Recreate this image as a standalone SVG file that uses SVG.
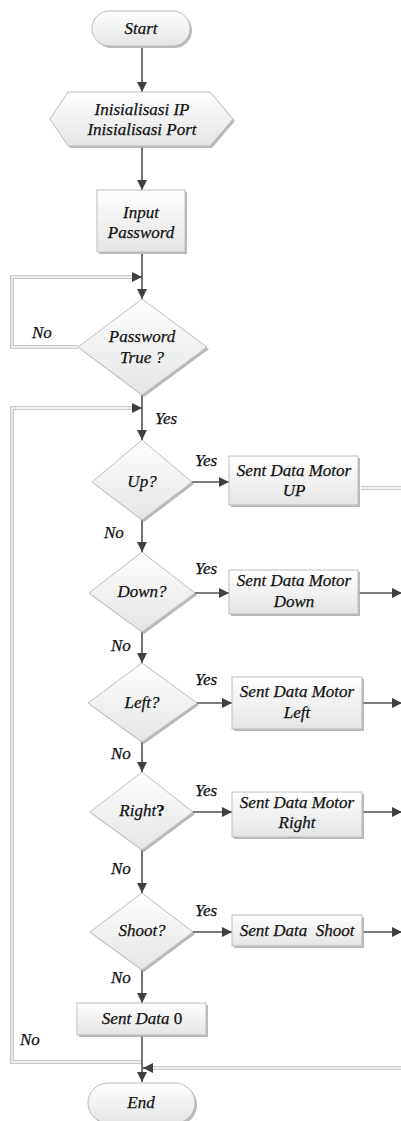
<svg xmlns="http://www.w3.org/2000/svg" width="401" height="1121" viewBox="0 0 401 1121">
<style>
.sh{fill:#a8a8a8;opacity:0.8}
.nd{fill:url(#g);stroke:#bdbdbd;stroke-width:1}
.t{font-family:'Liberation Serif',serif;font-style:italic;font-size:17px;fill:#111;stroke:#111;stroke-width:0.25;text-anchor:middle}
.l{font-family:'Liberation Serif',serif;font-style:italic;font-size:17px;fill:#111;stroke:#111;stroke-width:0.25}
.c{fill:none;stroke:#505050;stroke-width:1.6}
.d1{fill:none;stroke:#b8b8b8;stroke-width:3.5}
.d2{fill:none;stroke:#ffffff;stroke-width:1.3}
</style>
<defs>
<linearGradient id="g" x1="0" y1="0" x2="0" y2="1">
<stop offset="0" stop-color="#ffffff"/>
<stop offset="1" stop-color="#e4e4e4"/>
</linearGradient>
<marker id="a" markerUnits="userSpaceOnUse" markerWidth="12" markerHeight="12" refX="10" refY="5" orient="auto">
<path d="M0,0 L10,5 L0,10 Z" fill="#404040"/>
</marker>
</defs>

<g id="connectors">
<path class="c" d="M142 48 V92" marker-end="url(#a)"/>
<path class="c" d="M142 146 V190" marker-end="url(#a)"/>
<path class="c" d="M142 254 V299" marker-end="url(#a)"/>
<path class="d1" d="M78 347 H12 V277 H132"/>
<path class="d2" d="M78 347 H12 V277 H132"/>
<path class="c" d="M132 277 H142" marker-end="url(#a)"/>
<path class="c" d="M142 395 V440" marker-end="url(#a)"/>
<path class="d1" d="M142 1062 H12 V408 H132"/>
<path class="d2" d="M142 1062 H12 V408 H132"/>
<path class="c" d="M132 408 H142" marker-end="url(#a)"/>
<path class="c" d="M192 482 H229" marker-end="url(#a)"/>
<path class="d1" d="M361 488 H401"/>
<path class="d2" d="M361 488 H401"/>
<path class="c" d="M142 520 V552" marker-end="url(#a)"/>
<path class="c" d="M195 593 H229" marker-end="url(#a)"/>
<path class="c" d="M359 593 H402" marker-end="url(#a)"/>
<path class="c" d="M142 632 V663" marker-end="url(#a)"/>
<path class="c" d="M197 703 H232" marker-end="url(#a)"/>
<path class="c" d="M362 703 H402" marker-end="url(#a)"/>
<path class="c" d="M142 742 V772" marker-end="url(#a)"/>
<path class="c" d="M193 812 H232" marker-end="url(#a)"/>
<path class="c" d="M362 812 H402" marker-end="url(#a)"/>
<path class="c" d="M142 850 V893" marker-end="url(#a)"/>
<path class="c" d="M193 932 H232" marker-end="url(#a)"/>
<path class="c" d="M362 932 H402" marker-end="url(#a)"/>
<path class="c" d="M142 970 V1003" marker-end="url(#a)"/>
<path class="d1" d="M401 1068 H152"/>
<path class="d2" d="M401 1068 H152"/>
<path class="c" d="M152 1068 H143" marker-end="url(#a)"/>
<path class="c" d="M142 1036 V1082" marker-end="url(#a)"/>
<text class="l" x="32" y="338">No</text>
<text class="l" x="155" y="424">Yes</text>
<text class="l" x="195" y="466">Yes</text>
<text class="l" x="104" y="538">No</text>
<text class="l" x="195" y="574">Yes</text>
<text class="l" x="111" y="651">No</text>
<text class="l" x="195" y="685">Yes</text>
<text class="l" x="111" y="759">No</text>
<text class="l" x="195" y="796">Yes</text>
<text class="l" x="111" y="874">No</text>
<text class="l" x="195" y="916">Yes</text>
<text class="l" x="111" y="983">No</text>
<text class="l" x="20" y="1045">No</text>
</g>

<g id="start">
<rect class="sh" x="94" y="13" width="98" height="35" rx="17.5"/>
<rect class="nd" x="92" y="11" width="98" height="35" rx="17.5"/>
<text class="t" x="141" y="34">Start</text>
</g>

<g id="init">
<polygon class="sh" points="52,121 70,94 212,94 235,121 212,148 70,148"/>
<polygon class="nd" points="50,119 68,92 210,92 233,119 210,146 68,146"/>
<text class="t" x="142" y="115">Inisialisasi IP</text>
<text class="t" x="142" y="135">Inisialisasi Port</text>
</g>

<g id="input">
<rect class="sh" x="99" y="192" width="88" height="62"/>
<rect class="nd" x="97" y="190" width="88" height="62"/>
<text class="t" x="141" y="218">Input</text>
<text class="t" x="141" y="238">Password</text>
</g>

<g id="pwd">
<polygon class="sh" points="144,301 209,349 144,397 80,349"/>
<polygon class="nd" points="142,299 207,347 142,395 78,347"/>
<text class="t" x="142" y="342">Password</text>
<text class="t" x="142" y="363">True ?</text>
</g>

<g id="up">
<polygon class="sh" points="144,442 194,484 144,522 94,484"/>
<polygon class="nd" points="142,440 192,482 142,520 92,482"/>
<text class="t" x="142" y="487">Up?</text>
</g>

<g id="upbox">
<rect class="sh" x="231" y="458" width="129" height="49"/>
<rect class="nd" x="229" y="456" width="129" height="49"/>
<text class="t" x="294" y="476">Sent Data Motor</text>
<text class="t" x="294" y="496">UP</text>
</g>

<g id="down">
<polygon class="sh" points="144,554 197,595 144,634 91,595"/>
<polygon class="nd" points="142,552 195,593 142,632 89,593"/>
<text class="t" x="142" y="597">Down?</text>
</g>

<g id="downbox">
<rect class="sh" x="231" y="572" width="129" height="44"/>
<rect class="nd" x="229" y="570" width="129" height="44"/>
<text class="t" x="294" y="586">Sent Data Motor</text>
<text class="t" x="294" y="607">Down</text>
</g>

<g id="left">
<polygon class="sh" points="144,665 199,705 144,744 90,705"/>
<polygon class="nd" points="142,663 197,703 142,742 88,703"/>
<text class="t" x="142" y="708">Left?</text>
</g>

<g id="leftbox">
<rect class="sh" x="234" y="679" width="130" height="52"/>
<rect class="nd" x="232" y="677" width="130" height="52"/>
<text class="t" x="297" y="697">Sent Data Motor</text>
<text class="t" x="297" y="718">Left</text>
</g>

<g id="right">
<polygon class="sh" points="144,774 195,814 144,852 92,814"/>
<polygon class="nd" points="142,772 193,812 142,850 90,812"/>
<text class="t" x="142" y="816">Right<tspan font-style="normal" font-weight="bold">?</tspan></text>
</g>

<g id="rightbox">
<rect class="sh" x="234" y="794" width="130" height="45"/>
<rect class="nd" x="232" y="792" width="130" height="45"/>
<text class="t" x="297" y="808">Sent Data Motor</text>
<text class="t" x="297" y="828">Right</text>
</g>

<g id="shoot">
<polygon class="sh" points="144,895 195,934 144,972 92,934"/>
<polygon class="nd" points="142,893 193,932 142,970 90,932"/>
<text class="t" x="142" y="936">Shoot?</text>
</g>

<g id="shootbox">
<rect class="sh" x="234" y="917" width="130" height="31"/>
<rect class="nd" x="232" y="915" width="130" height="31"/>
<text class="t" x="297" y="936" xml:space="preserve">Sent Data  Shoot</text>
</g>

<g id="sent0">
<rect class="sh" x="79" y="1005" width="129" height="32"/>
<rect class="nd" x="77" y="1003" width="129" height="32"/>
<text class="t" x="142" y="1024">Sent Data <tspan font-style="normal">0</tspan></text>
</g>

<g id="end">
<rect class="sh" x="90" y="1085" width="107" height="40" rx="20"/>
<rect class="nd" x="88" y="1083" width="107" height="40" rx="20"/>
<text class="t" x="141" y="1108">End</text>
</g>
</svg>
